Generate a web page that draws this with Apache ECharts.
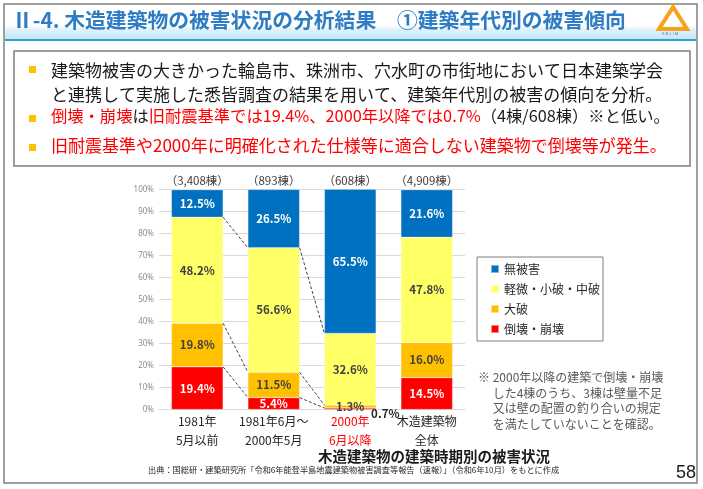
<!DOCTYPE html>
<html lang="ja">
<head>
<meta charset="UTF-8">
<title>木造建築物の建築時期別の被害状況</title>
<script src="https://cdn.jsdelivr.net/npm/echarts@6/dist/echarts.min.js"></script>
<style>
  html, body { margin: 0; padding: 0; background: #fff; }
  #main { width: 703px; height: 489px; }
</style>
</head>
<body>
<div id="main"></div>
<script>
// 建築時期（横軸）
var periods = ['1981年\n5月以前', '1981年6月～\n2000年5月', '2000年\n6月以降', '木造建築物\n全体'];
// 棟数（上部ラベル）
var counts = ['（3,408棟）', '（893棟）', '（608棟）', '（4,909棟）'];
// 被害区分ごとの割合(%)
var collapse = [19.4, 5.4, 0.7, 14.5];   // 倒壊・崩壊
var severe = [19.8, 11.5, 1.3, 16.0];    // 大破
var minor = [48.2, 56.6, 32.6, 47.8];    // 軽微・小破・中破
var noDamage = [12.5, 26.5, 65.5, 21.6]; // 無被害
var legendNames = ['無被害', '軽微・小破・中破', '大破', '倒壊・崩壊'];

var FONT = '"Noto Sans CJK JP", "Noto Sans", sans-serif';
var BAR_RATIO = 0.676;

// 破線（各区分の境界を隣の棒とつなぐ）
var layers = [collapse, severe, minor];
var links = [];
[0, 1].forEach(function (i) {
    var a = 0, b = 0;
    layers.forEach(function (arr) {
        a += arr[i];
        b += arr[i + 1];
        links.push([i, +a.toFixed(1), +b.toFixed(1)]);
    });
});

function pct(p) { return p.value.toFixed(1) + '%'; }

function barSeries(name, data, color, labelColor) {
    return {
        name: name,
        type: 'bar',
        stack: 'total',
        barWidth: (BAR_RATIO * 100) + '%',
        data: data,
        itemStyle: { color: color, borderColor: 'rgba(255,255,255,0.5)', borderWidth: 0.5 },
        label: {
            show: true,
            formatter: pct,
            color: labelColor,
            fontFamily: FONT,
            fontSize: 11.5,
            fontWeight: 'bold'
        }
    };
}

var redSeries = barSeries('倒壊・崩壊', collapse.map(function (v, i) {
    if (i === 2) {
        // 0.7% は棒の右下に外出し
        return { value: v, label: { position: 'right', distance: 0, offset: [-5, 5], color: '#262626' } };
    }
    return v;
}), '#FF0000', '#ffffff');

var myChart = echarts.init(document.getElementById('main'));

myChart.setOption({
    animation: false,
    textStyle: { fontFamily: FONT },
    grid: { left: 159, right: 238, top: 189.5, bottom: 79.5 },
    legend: {
        data: legendNames,
        orient: 'vertical',
        left: 477,
        top: 257,
        padding: [6, 3, 6, 13],
        itemGap: 8,
        itemWidth: 8,
        itemHeight: 8,
        icon: 'rect',
        borderColor: '#7f7f7f',
        borderWidth: 1,
        textStyle: { fontFamily: FONT, fontSize: 12, color: '#262626' }
    },
    xAxis: [{
        type: 'category',
        data: periods,
        axisLine: { lineStyle: { color: '#d9d9d9' } },
        axisTick: { show: false },
        axisLabel: {
            interval: 0,
            margin: 3,
            fontSize: 12,
            lineHeight: 18.5,
            color: function (v, i) { return i === 2 ? '#FF0000' : '#262626'; }
        }
    }, {
        type: 'category',
        position: 'top',
        data: counts,
        axisLine: { show: false },
        axisTick: { show: false },
        axisLabel: { interval: 0, margin: 3, fontSize: 11.5, color: '#404040' }
    }],
    yAxis: {
        type: 'value',
        min: 0,
        max: 100,
        interval: 10,
        axisLine: { show: false },
        axisTick: { show: false },
        splitLine: { lineStyle: { color: '#d9d9d9' } },
        axisLabel: { formatter: '{value}%', fontSize: 8, color: '#8c8c8c', margin: 5, fontFamily: '"Liberation Sans Narrow", "Noto Sans", sans-serif' }
    },
    series: [
        redSeries,
        barSeries('大破', severe, '#FFC000', '#404040'),
        barSeries('軽微・小破・中破', minor, '#FFFF66', '#404040'),
        barSeries('無被害', noDamage, '#0070C0', '#ffffff'),
        {
            type: 'custom',
            name: 'links',
            data: links,
            encode: { x: 0, y: [1, 2] },
            z: 3,
            silent: true,
            renderItem: function (params, api) {
                var i = api.value(0);
                var p1 = api.coord([i, api.value(1)]);
                var p2 = api.coord([i + 1, api.value(2)]);
                var half = api.size([1, 0])[0] * BAR_RATIO / 2;
                return {
                    type: 'line',
                    shape: { x1: p1[0] + half, y1: p1[1], x2: p2[0] - half, y2: p2[1] },
                    style: { stroke: '#404040', lineWidth: 1, lineDash: [3, 2] }
                };
            }
        }
    ],
    graphic: [
        // スライド枠
        { type: 'rect', shape: { x: 4, y: 4, width: 693, height: 479 }, style: { fill: 'none', stroke: '#808080', lineWidth: 1.5 }, z: -10 },
        // タイトル帯
        {
            type: 'rect', shape: { x: 5, y: 5, width: 691, height: 34 }, z: -9,
            style: { fill: new echarts.graphic.LinearGradient(0, 0, 0, 1, [
                { offset: 0, color: '#ffffff' }, { offset: 0.6, color: '#ffffff' }, { offset: 0.7, color: '#e3f3fb' }, { offset: 1, color: '#c6e6f5' }
            ]) }
        },
        { type: 'rect', shape: { x: 5, y: 39, width: 691, height: 2 }, style: { fill: '#27a3cc' }, z: -8 },
        {
            type: 'text', left: 12, top: 10, z: 5,
            style: { text: 'Ⅱ-4. 木造建築物の被害状況の分析結果　①建築年代別の被害傾向', fill: '#2e7cc4', font: 'bold 20.8px ' + FONT }
        },
        // ロゴ
        { type: 'polygon', shape: { points: [[673, 7], [659, 29], [687, 29]] }, style: { fill: 'none', stroke: '#F7A21B', lineWidth: 4 }, z: 5 },
        { type: 'text', left: 662, top: 32, style: { text: 'K E L I M', fill: '#2e7cc4', font: '4px sans-serif' }, z: 5 },
        // 説明枠
        { type: 'rect', shape: { x: 14, y: 51, width: 676, height: 115 }, style: { fill: 'none', stroke: '#7f7f7f', lineWidth: 1.5 }, z: -5 },
        { type: 'rect', shape: { x: 29, y: 66, width: 7, height: 7 }, style: { fill: '#FFC000' } },
        { type: 'rect', shape: { x: 29, y: 115, width: 7, height: 7 }, style: { fill: '#FFC000' } },
        { type: 'rect', shape: { x: 29, y: 144, width: 7, height: 7 }, style: { fill: '#FFC000' } },
        {
            type: 'text', left: 51, top: 59,
            style: { text: '建築物被害の大きかった輪島市、珠洲市、穴水町の市街地において日本建築学会\nと連携して実施した悉皆調査の結果を用いて、建築年代別の被害の傾向を分析。', fill: '#1a1a1a', font: '17px ' + FONT, lineHeight: 24 }
        },
        {
            type: 'text', left: 51, top: 108,
            style: {
                text: '{r|倒壊・崩壊}は{r|旧耐震基準では19.4%、2000年以降では0.7%}（4棟/608棟）※と低い。',
                fill: '#1a1a1a', font: '16.3px ' + FONT,
                rich: { r: { fill: '#FF0000', font: '16.3px ' + FONT } }
            }
        },
        {
            type: 'text', left: 51, top: 137,
            style: { text: '旧耐震基準や2000年に明確化された仕様等に適合しない建築物で倒壊等が発生。', fill: '#FF0000', font: '17px ' + FONT }
        },
        // 注記
        {
            type: 'text', left: 478, top: 370,
            style: { text: '※ 2000年以降の建築で倒壊・崩壊\n　 した4棟のうち、3棟は壁量不足\n　 又は壁の配置の釣り合いの規定\n　 を満たしていないことを確認。', fill: '#595959', font: '12px ' + FONT, lineHeight: 15.5 }
        },
        // 図タイトル・出典・頁番号
        {
            type: 'text', left: 318, top: 449,
            style: { text: '木造建築物の建築時期別の被害状況', fill: '#1a1a1a', font: 'bold 14.5px ' + FONT, align: 'center' }
        },
        {
            type: 'text', left: 148, top: 466,
            style: { text: '出典：国総研・建築研究所「令和6年能登半島地震建築物被害調査等報告（速報）」（令和6年10月）をもとに作成', fill: '#262626', font: '8.2px ' + FONT }
        },
        {
            type: 'text', right: 7, top: 464,
            style: { text: '58', fill: '#1a1a1a', font: '18px "Liberation Sans", sans-serif' }
        }
    ]
});
</script>
</body>
</html>
